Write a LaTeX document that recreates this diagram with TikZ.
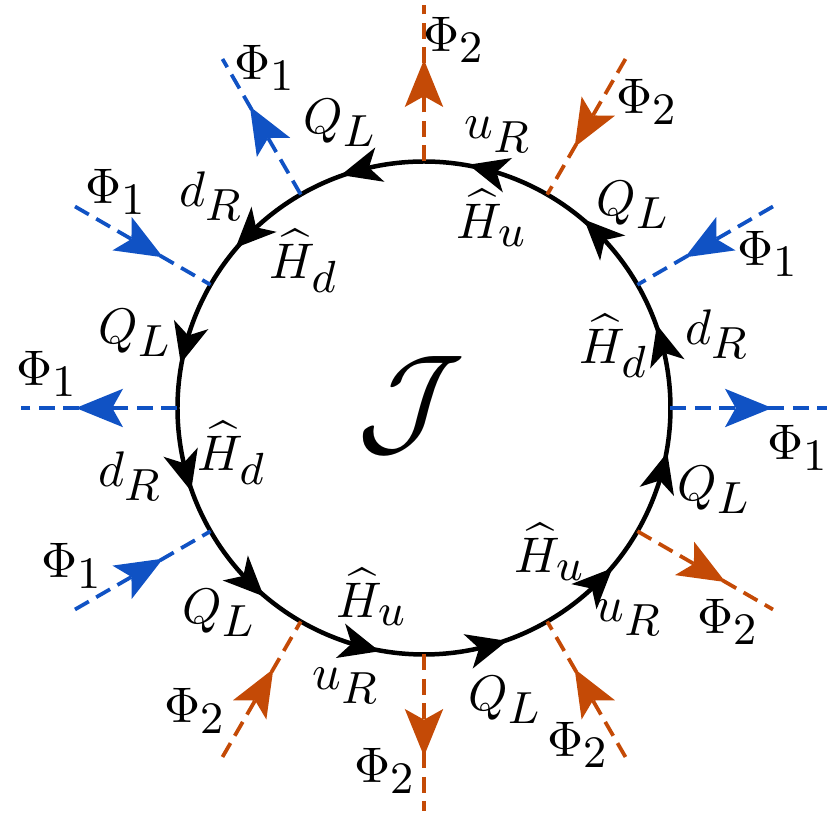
\documentclass[tikz,border=0pt]{standalone}
\usetikzlibrary{arrows.meta,decorations.markings}
\DeclareMathSizes{10}{10}{8.6}{7}
\definecolor{phitwo}{RGB}{196,74,6}
\definecolor{phione}{RGB}{16,82,196}
\begin{document}
\begin{tikzpicture}[x=0.2pt,y=0.2pt,
  fer/.style={line width=0.9pt, postaction={decorate},
    decoration={markings, mark=at position 0.5 with {\arrow[xshift=4pt]{Stealth[length=8pt,width=7pt,inset=2.2pt]}}}},
  scal/.style={line width=0.75pt, dash pattern=on 3.2pt off 1.7pt, postaction={decorate},
    decoration={markings, mark=at position 0.5 with {\arrow[xshift=4.7pt]{Stealth[length=9.4pt,width=7.6pt,inset=2.1pt]}}}},
  lab/.style={inner sep=0pt}
]
\useasboundingbox (-424,-405) rectangle (408,408);
\foreach \i in {0,...,11}{
  \coordinate (v\i) at (\i*30:246.5);
  \coordinate (e\i) at (\i*30:403);
}
% fermion loop
\foreach \i in {0,...,11}{
  \draw[fer] (v\i) arc[start angle=\i*30, end angle=\i*30+30, radius=246.5];
}
% external scalar legs
\draw[scal, phione] (v0) -- (e0);
\draw[scal, phione] (e1) -- (v1);
\draw[scal, phitwo] (e2) -- (v2);
\draw[scal, phitwo] (v3) -- (e3);
\draw[scal, phione] (v4) -- (e4);
\draw[scal, phione] (e5) -- (v5);
\draw[scal, phione] (v6) -- (e6);
\draw[scal, phione] (e7) -- (v7);
\draw[scal, phitwo] (e8) -- (v8);
\draw[scal, phitwo] (v9) -- (e9);
\draw[scal, phitwo] (e10) -- (v10);
\draw[scal, phitwo] (v11) -- (e11);
% centre
\node[lab, font=\fontsize{30}{36}\selectfont] (J) at (-13,3) {$\mathcal{J}$};
% labels
\node[lab] (p3) at (30,368) {$\Phi_2$};
\node[lab] (a75o) at (74,273) {$u_R$};
\node[lab] (a75i) at (68,190) {$\widehat{H}_u$};
\node[lab] (a105o) at (-84,285) {$Q_L$};
\node[lab] (p4) at (-159,340) {$\Phi_1$};
\node[lab] (a135o) at (-213,212) {$d_R$};
\node[lab] (a135i) at (-120,147) {$\widehat{H}_d$};
\node[lab] (p5) at (-308,216) {$\Phi_1$};
\node[lab] (a165o) at (-289,75) {$Q_L$};
\node[lab] (p6) at (-377,34) {$\Phi_1$};
\node[lab] (a195i) at (-192,-45) {$\widehat{H}_d$};
\node[lab] (a195o) at (-294,-68) {$d_R$};
\node[lab] (p7) at (-352,-158) {$\Phi_1$};
\node[lab] (a225o) at (-205,-205) {$Q_L$};
\node[lab] (p8) at (-229,-303) {$\Phi_2$};
\node[lab] (a255i) at (-52,-189) {$\widehat{H}_u$};
\node[lab] (a255o) at (-78,-278) {$u_R$};
\node[lab] (p9) at (-39,-363) {$\Phi_2$};
\node[lab] (a285o) at (81,-292) {$Q_L$};
\node[lab] (p10) at (154,-337) {$\Phi_2$};
\node[lab] (a315i) at (126,-144) {$\widehat{H}_u$};
\node[lab] (a315o) at (205,-210) {$u_R$};
\node[lab] (p11) at (304,-214) {$\Phi_2$};
\node[lab] (a345o) at (290,-82) {$Q_L$};
\node[lab] (p0) at (374,-40) {$\Phi_1$};
\node[lab] (a15i) at (190,62) {$\widehat{H}_d$};
\node[lab] (a15o) at (293,74) {$d_R$};
\node[lab] (p1) at (344,154) {$\Phi_1$};
\node[lab] (a45o) at (209,203) {$Q_L$};
\node[lab] (p2) at (223,306) {$\Phi_2$};
\end{tikzpicture}
\end{document}
